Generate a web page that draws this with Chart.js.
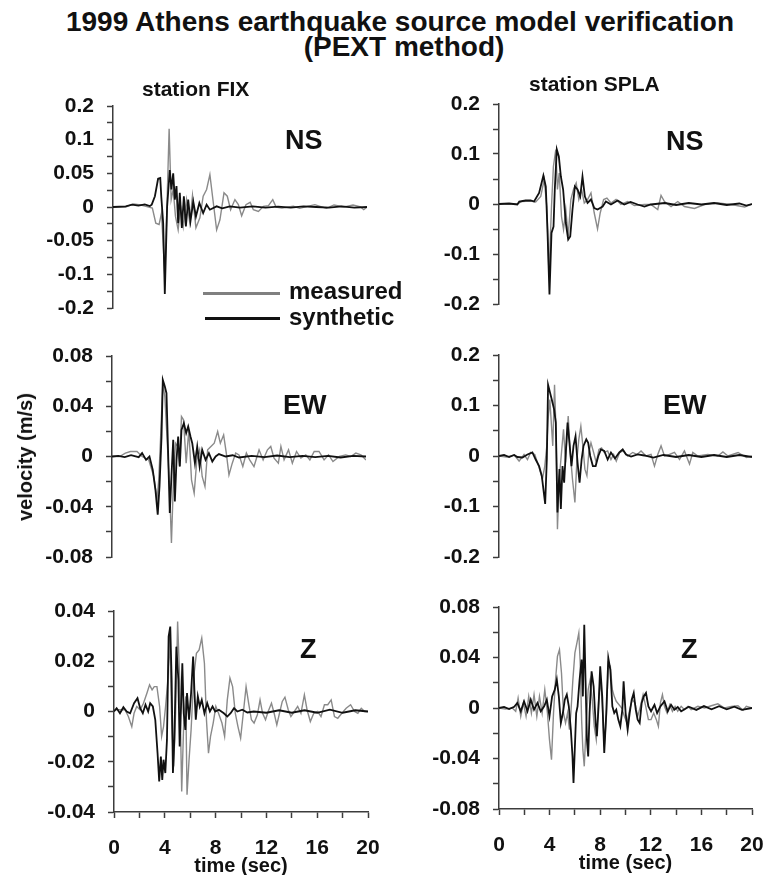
<!DOCTYPE html>
<html>
<head>
<meta charset="utf-8">
<script src="https://cdn.jsdelivr.net/npm/chart.js@4.4.1/dist/chart.umd.min.js"></script>
<style>
  body { margin: 0; background: #fff; }
  #page {
    position: relative;
    width: 763px;
    height: 875px;
    overflow: hidden;
    font-family: Arial, "Liberation Sans", sans-serif;
    font-weight: bold;
    color: #111;
  }
  #page canvas { position: absolute; }
  .txt { position: absolute; white-space: nowrap; line-height: 1; z-index: 2; }
  .key { position: absolute; z-index: 2; }
</style>
</head>
<body>
<div id="page"></div>
<script>
// time axis (s)
const timeTicks = [0, 4, 8, 12, 16, 20];

// y tick labels per panel (value -> printed text)
const fixNsTicks = [0.15, 0.1, 0.05, 0, -0.05, -0.1, -0.15];
const fixNsTickText = ["0.2", "0.1", "0.05", "0", "-0.05", "-0.1", "-0.2"];
const fixEwTicks = [0.08, 0.04, 0, -0.04, -0.08];
const fixEwTickText = ["0.08", "0.04", "0", "-0.04", "-0.08"];
const fixZTicks = [0.04, 0.02, 0, -0.02, -0.04];
const fixZTickText = ["0.04", "0.02", "0", "-0.02", "-0.04"];
const splaNsTicks = [0.2, 0.1, 0, -0.1, -0.2];
const splaNsTickText = ["0.2", "0.1", "0", "-0.1", "-0.2"];
const splaEwTicks = [0.2, 0.1, 0, -0.1, -0.2];
const splaEwTickText = ["0.2", "0.1", "0", "-0.1", "-0.2"];
const splaZTicks = [0.08, 0.04, 0, -0.04, -0.08];
const splaZTickText = ["0.08", "0.04", "0", "-0.04", "-0.08"];

// station FIX, NS
const fixNsSynT = [0, 1, 1.5, 2, 2.5, 2.9, 3.05, 3.3, 3.55, 3.72,
  3.8, 3.95, 4.08, 4.26, 4.47, 4.6, 4.74, 4.87, 5, 5.13,
  5.26, 5.42, 5.58, 5.74, 5.92, 6.1, 6.32, 6.53, 6.8, 7.1,
  7.37, 7.63, 8.16, 8.6, 9.2, 10, 11, 12, 13, 14,
  15, 16, 17, 18, 19, 20];
const fixNsSynV = [0, 0.001, 0.0035, 0.002, 0.004, 0.0015, 0.0035, 0.016, 0.042, 0.043,
  0.016, -0.024, -0.129, 0, 0.055, 0.026, 0.05, 0.011, 0.031, -0.024,
  0.021, -0.031, 0.016, -0.029, 0.011, -0.021, 0.008, -0.014, 0.006, -0.009,
  0.0035, -0.004, 0.001, -0.002, 0.001, -0.001, 0.001, -0.001, 0.0005, -0.001,
  0.001, 0, -0.001, 0.001, -0.001, 0];
const fixNsMeasT = [0, 1, 1.6, 2.2, 2.6, 3.1, 3.37, 3.63, 3.82, 4.08,
  4.21, 4.42, 4.58, 4.74, 4.92, 5.13, 5.32, 5.53, 5.79, 6.05,
  6.26, 6.53, 6.84, 7.1, 7.37, 7.63, 7.9, 8.16, 8.42, 8.74,
  9, 9.26, 9.6, 9.87, 10.13, 10.47, 10.8, 11.05, 11.45, 11.84,
  12.24, 12.58, 12.84, 13.3, 14.2, 14.7, 15.3, 15.9, 16.3, 16.8,
  17.4, 18.2, 18.9, 19.5, 19.74, 20];
const fixNsMeasV = [0, 0, 0.0045, 0.003, 0.001, -0.0015, -0.024, -0.026, -0.009, -0.103,
  -0.024, 0.116, 0.011, 0.026, -0.014, -0.034, 0.001, -0.029, 0.011, -0.024,
  0.017, -0.031, -0.016, 0.016, 0.026, 0.048, 0.006, -0.034, -0.019, 0.021,
  0.016, -0.004, 0.011, 0.0035, -0.013, 0.0035, 0.007, -0.004, -0.0065, 0.001,
  0.002, 0.011, 0, -0.0015, 0.001, -0.002, 0.001, 0.0035, 0.001, -0.002,
  0.003, 0, 0.003, 0, -0.004, 0];

// station SPLA, NS
const splaNsSynT = [0, 0.8, 1.45, 1.6, 2.1, 2.5, 2.77, 3.17, 3.51, 3.7,
  3.83, 3.99, 4.15, 4.31, 4.41, 4.57, 4.73, 4.89, 5.07, 5.28,
  5.47, 5.63, 5.81, 6, 6.21, 6.42, 6.6, 6.79, 7, 7.27,
  7.53, 7.79, 8.19, 8.45, 8.85, 9.38, 9.9, 10.4, 10.96, 11.5,
  12, 13.1, 14, 15, 16, 17, 18, 19, 19.55, 20];
const splaNsSynV = [0, 0.001, -0.001, 0.005, 0.007, 0.007, 0.005, 0.022, 0.057, 0.035,
  -0.051, -0.181, -0.058, -0.045, 0.029, 0.109, 0.095, 0.055, 0.029, -0.038,
  -0.071, -0.065, -0.011, 0.035, 0.029, 0.015, 0.055, 0.015, 0.002, 0.009,
  -0.008, -0.011, -0.005, 0.005, -0.001, 0.007, -0.001, 0.004, -0.001, -0.005,
  -0.001, 0.002, -0.002, 0.002, -0.001, 0.002, -0.002, 0.001, -0.003, 0];
const splaNsMeasT = [0, 1.45, 1.8, 2.5, 2.9, 3.3, 3.57, 3.78, 3.95, 4.15,
  4.3, 4.49, 4.62, 4.76, 4.94, 5.1, 5.28, 5.47, 5.68, 5.89,
  6.1, 6.31, 6.53, 6.74, 7, 7.27, 7.53, 7.79, 8, 8.27,
  8.53, 8.85, 9.25, 9.64, 10.17, 10.7, 11.5, 12, 12.55, 12.81,
  13.08, 13.6, 14.13, 14.66, 15.45, 16.25, 17.3, 18.36, 19.42, 20];
const splaNsMeasV = [0, 0, 0.005, 0.006, 0.004, 0.015, 0.049, -0.005, -0.14, -0.005,
  0.075, 0.109, 0.029, 0.062, -0.025, -0.051, -0.011, -0.065, 0.009, 0.029,
  0.042, 0.009, 0.029, 0.002, 0.009, 0.022, -0.018, -0.05, -0.018, 0.009,
  0.012, 0.002, 0.009, -0.001, 0.005, -0.003, -0.001, -0.001, -0.011, 0.017,
  0.005, -0.005, 0.005, -0.005, -0.009, -0.001, 0.002, -0.001, -0.006, 0];

// station FIX, EW
const fixEwSynT = [0, 0.5, 1, 1.5, 2.1, 2.37, 2.68, 2.95, 3.21, 3.42,
  3.6, 3.74, 3.9, 4, 4.16, 4.29, 4.42, 4.55, 4.68, 4.82,
  4.95, 5.08, 5.21, 5.34, 5.47, 5.66, 5.84, 6, 6.18, 6.32,
  6.53, 6.71, 6.9, 7.1, 7.37, 7.63, 7.9, 8.16, 8.42, 8.95,
  9.5, 10, 11, 12, 13, 14, 15, 16, 17, 18,
  19, 20];
const fixEwSynV = [0, 0.0005, -0.0005, 0.001, -0.0005, 0.0027, -0.0027, 0, -0.0106, -0.0265,
  -0.0464, -0.0239, 0.0159, 0.061, 0.0557, 0.0504, 0.0027, -0.045, -0.0159, 0.0133,
  -0.0358, -0.0027, 0.0159, -0.008, 0.0212, 0.0265, 0.0186, 0.0239, 0.0159, 0.0106,
  -0.0053, 0.008, -0.008, 0.0053, -0.0027, 0.0027, -0.004, 0, 0.0019, 0,
  0.001, -0.0008, 0.0005, -0.0005, 0.0008, -0.0005, 0.0005, -0.0005, 0.0005, -0.0008,
  0.0005, 0];
const fixEwMeasT = [0, 0.6, 1.05, 1.45, 1.97, 2.37, 2.89, 3.29, 3.55, 3.68,
  3.82, 4, 4.16, 4.34, 4.53, 4.68, 4.84, 5, 5.16, 5.32,
  5.47, 5.63, 5.84, 6.05, 6.26, 6.47, 6.68, 6.9, 7.1, 7.32,
  7.53, 7.79, 8.05, 8.32, 8.53, 8.79, 9, 9.21, 9.47, 9.74,
  10, 10.3, 10.58, 10.84, 11.18, 11.58, 11.9, 12.24, 12.5, 12.76,
  13.1, 13.3, 13.55, 13.9, 14.2, 14.53, 14.87, 15.26, 15.58, 15.92,
  16.3, 16.7, 17.05, 17.4, 17.9, 18.4, 18.8, 19.2, 19.6, 20];
const fixEwMeasV = [0, 0, 0.0027, 0.004, 0.004, 0, -0.0027, -0.0159, -0.0345, -0.0186,
  0.0133, 0.0583, 0.0477, 0.0133, -0.0239, -0.0689, -0.0186, 0.0106, 0.008, -0.008,
  0.0318, 0.0292, -0.0053, 0.0212, -0.0186, -0.0292, -0.0027, 0.0053, -0.0159, -0.0239,
  0.0053, 0.008, 0.0106, 0.0199, 0.0106, 0.0172, 0.0027, -0.0146, -0.0053, 0.0027,
  0.0013, -0.008, 0.0027, -0.0027, -0.008, 0.0053, -0.0027, 0.0053, 0.008, -0.0013,
  -0.0053, 0.008, -0.0027, 0.0053, -0.0053, 0.004, -0.0013, 0.0013, -0.0027, 0.004,
  0.004, -0.0027, 0.0013, -0.004, 0, 0.0013, 0, 0.0027, 0.0013, -0.0027];

// station SPLA, EW
const splaEwSynT = [0, 0.4, 0.8, 1.2, 1.45, 1.85, 2.25, 2.64, 2.9, 3.17,
  3.38, 3.65, 3.78, 3.88, 4.04, 4.17, 4.36, 4.49, 4.62, 4.78,
  4.89, 5.02, 5.15, 5.28, 5.42, 5.57, 5.73, 5.89, 6.05, 6.21,
  6.37, 6.53, 6.68, 6.9, 7.05, 7.21, 7.42, 7.64, 7.85, 8.06,
  8.32, 8.59, 8.85, 9.17, 9.51, 9.78, 10.04, 10.44, 10.96, 11.49,
  12.2, 13, 14, 15, 16, 17, 18, 19, 20];
const splaEwSynV = [0, 0.002, -0.002, 0.002, -0.002, -0.003, 0.003, 0.007, -0.007, -0.02,
  -0.039, -0.095, -0.007, 0.141, 0.125, 0.112, 0.092, 0.066, -0.112, -0.026,
  -0.105, -0.02, -0.053, 0.007, 0.066, 0.026, -0.02, 0.02, 0.039, -0.013,
  -0.053, -0.007, 0.02, 0.033, 0.026, 0, -0.02, -0.02, 0, 0.013,
  0.01, -0.007, 0.007, -0.005, 0.007, 0.013, 0.003, -0.001, 0.003, 0.001,
  -0.003, 0.002, -0.002, 0.002, -0.002, 0.002, -0.002, 0.002, -0.002];
const splaEwMeasT = [0, 0.6, 1.2, 1.59, 1.98, 2.25, 2.5, 2.83, 3.17, 3.43,
  3.62, 3.78, 3.88, 4.02, 4.15, 4.25, 4.39, 4.52, 4.62, 4.76,
  4.94, 5.1, 5.26, 5.47, 5.63, 5.81, 6, 6.16, 6.31, 6.47,
  6.63, 6.79, 6.95, 7.1, 7.27, 7.48, 7.69, 7.9, 8.11, 8.32,
  8.59, 8.85, 9.06, 9.27, 9.54, 9.85, 10.17, 10.57, 10.91, 11.23,
  11.62, 12.02, 12.29, 12.55, 12.81, 13.08, 13.47, 13.87, 14.27, 14.66,
  15.06, 15.32, 15.72, 16.5, 17.3, 17.7, 18.1, 18.9, 19.55, 20];
const splaEwMeasV = [0, -0.002, 0.002, -0.01, 0.003, -0.007, 0.007, 0.003, -0.023, -0.046,
  -0.02, 0.02, 0.072, 0.112, 0.059, 0.02, 0.141, 0.039, -0.145, -0.046,
  0.007, 0.053, -0.013, 0.079, 0.007, -0.046, -0.092, -0.007, 0.033, 0.059,
  0.02, -0.026, -0.039, 0.007, 0.026, 0.007, -0.013, 0.013, 0.016, 0.007,
  0.01, -0.007, 0.003, -0.01, 0.007, 0.01, 0, 0.007, 0.003, 0.01,
  0, 0.003, -0.02, 0.003, 0.02, 0, 0.003, 0.007, -0.007, 0.01,
  -0.016, 0.007, 0, 0.003, 0, 0.008, 0, 0.007, -0.003, 0];

// station FIX, Z
const fixZSynT = [0, 0.21, 0.47, 0.74, 1, 1.27, 1.58, 1.85, 2.06, 2.27,
  2.48, 2.69, 2.85, 3.06, 3.25, 3.43, 3.56, 3.69, 3.8, 3.9,
  4.04, 4.17, 4.3, 4.43, 4.54, 4.64, 4.75, 4.91, 5.07, 5.17,
  5.28, 5.38, 5.49, 5.62, 5.75, 5.91, 6.07, 6.23, 6.33, 6.44,
  6.6, 6.75, 6.91, 7.12, 7.34, 7.55, 7.76, 7.97, 8.26, 8.65,
  8.92, 9.18, 9.45, 9.71, 10.1, 10.5, 11, 12, 13, 14,
  15, 16, 17, 18, 19, 20];
const fixZSynV = [0, 0.0013, -0.0007, 0.0017, 0, -0.0007, 0.0033, 0.0053, 0.0013, -0.0007,
  0.0027, 0, 0.0033, 0.002, -0.0033, -0.0166, -0.0278, -0.0179, -0.0272, -0.0192,
  -0.0245, -0.0113, 0.0298, 0.0338, 0.0126, -0.0245, -0.0113, 0.0258, 0.0126, -0.0139,
  0.002, 0.0192, -0.0007, -0.0073, 0.0073, -0.0033, 0.0073, 0.0219, 0.0086, -0.0033,
  0.006, 0.002, 0.0046, -0.0007, 0.0033, 0, 0.002, 0, 0.0007, -0.0007,
  -0.002, -0.0007, 0.0013, 0, 0.0007, -0.0004, 0, -0.0005, 0.0005, -0.0005,
  0.0005, -0.0005, 0.0007, -0.0005, 0.0005, 0];
const fixZMeasT = [0, 0.87, 1.13, 1.4, 1.58, 1.79, 2.06, 2.32, 2.59, 2.8,
  3, 3.17, 3.38, 3.59, 3.75, 3.9, 4.06, 4.22, 4.38, 4.54,
  4.7, 4.85, 5.01, 5.17, 5.33, 5.49, 5.65, 5.75, 5.91, 6.07,
  6.28, 6.49, 6.7, 6.91, 7.12, 7.28, 7.44, 7.6, 7.81, 8.02,
  8.23, 8.5, 8.71, 8.92, 9.13, 9.34, 9.55, 9.76, 9.97, 10.18,
  10.4, 10.6, 10.82, 11.03, 11.29, 11.5, 11.7, 11.93, 12.14, 12.4,
  12.61, 12.82, 13.03, 13.25, 13.46, 13.72, 13.93, 14.2, 14.46, 14.72,
  14.99, 15.2, 15.46, 15.73, 16.04, 16.3, 16.57, 16.83, 17.1, 17.36,
  17.62, 17.94, 18.28, 18.63, 18.94, 19.2, 19.47, 19.74, 20];
const fixZMeasV = [0.0007, 0.0007, -0.002, -0.006, -0.0007, 0.002, 0.0007, 0.0033, 0.0073, 0.0106,
  0.0086, 0.0099, 0.0099, 0.002, -0.0099, -0.006, 0.002, 0.0113, 0.0298, -0.0033,
  -0.0219, -0.0007, 0.0358, 0.0126, -0.0318, -0.0046, 0.006, -0.0331, -0.0192, -0.0073,
  0.0139, 0.0232, 0.0245, 0.0292, 0.0192, -0.0033, -0.0166, -0.0099, -0.0046, 0.002,
  -0.0007, -0.0046, -0.0099, 0.0046, 0.0133, 0.0099, -0.0007, -0.006, -0.0106, -0.0007,
  0.0099, 0.0033, -0.0033, -0.0046, -0.0013, 0.0046, -0.0007, -0.0033, 0, 0.0033,
  -0.0007, -0.0053, -0.0007, 0.004, 0.0057, 0.0007, -0.002, 0, 0.002, -0.0007,
  0.0066, 0.0007, -0.004, -0.0007, 0, -0.002, 0.0027, 0.0027, 0.0046, -0.002,
  -0.0027, -0.0007, 0.0013, 0.0027, 0, -0.0007, 0.0013, 0, 0];

// station SPLA, Z
const splaZSynT = [0, 0.4, 0.8, 1.2, 1.45, 1.72, 1.98, 2.25, 2.51, 2.77,
  3.04, 3.3, 3.57, 3.78, 3.99, 4.2, 4.41, 4.57, 4.73, 4.89,
  5.05, 5.2, 5.36, 5.52, 5.68, 5.81, 5.89, 6, 6.1, 6.21,
  6.37, 6.53, 6.63, 6.74, 6.84, 6.95, 7.05, 7.16, 7.32, 7.48,
  7.64, 7.74, 7.87, 8, 8.16, 8.32, 8.48, 8.64, 8.8, 8.96,
  9.11, 9.27, 9.43, 9.59, 9.75, 9.85, 10.01, 10.17, 10.33, 10.49,
  10.65, 10.81, 10.96, 11.12, 11.28, 11.44, 11.62, 11.81, 12.02, 12.29,
  12.5, 12.76, 13.08, 13.34, 13.6, 13.87, 14.13, 14.4, 15, 15.6,
  16.2, 16.8, 17.4, 18, 18.6, 19.2, 20];
const splaZSynV = [0, 0.0008, -0.0008, 0.001, 0.004, -0.0026, 0.0053, -0.0026, 0.0066, -0.0013,
  0.004, -0.0026, 0.0013, 0.0066, -0.0066, 0.0092, 0.0145, 0.0224, 0.0092, -0.0119,
  -0.004, 0.0066, 0.0106, 0.0013, -0.0172, -0.0383, -0.0594, -0.0304, -0.004, 0.0013,
  0.0224, 0.0383, 0.0092, 0.066, 0.0224, -0.0251, -0.0383, -0.004, 0.029, 0.0172,
  -0.0119, -0.0224, 0.0013, 0.033, 0.0092, -0.0356, -0.004, 0.0396, 0.0304, 0.0013,
  -0.004, -0.0013, -0.0092, -0.0145, -0.0013, 0.0211, -0.004, -0.0172, -0.004, 0.0066,
  0.0119, -0.0013, -0.0092, -0.0119, 0.004, 0.0092, 0.0119, 0.0013, -0.0026, 0.0026,
  -0.004, 0.0013, 0.0053, -0.0026, 0.0026, -0.0013, 0.0008, -0.0026, 0.001, -0.0015,
  0.0015, -0.001, 0.0015, -0.001, 0.001, -0.0015, 0];
const splaZMeasT = [0, 0.5, 1.05, 1.32, 1.51, 1.72, 1.93, 2.14, 2.35, 2.56,
  2.77, 2.99, 3.2, 3.41, 3.62, 3.83, 3.99, 4.15, 4.31, 4.47,
  4.62, 4.78, 4.94, 5.1, 5.26, 5.42, 5.57, 5.68, 5.84, 6,
  6.16, 6.31, 6.42, 6.53, 6.63, 6.74, 6.9, 7.05, 7.21, 7.37,
  7.53, 7.69, 7.85, 8, 8.16, 8.32, 8.48, 8.64, 8.8, 8.96,
  9.11, 9.27, 9.49, 9.7, 9.91, 10.12, 10.33, 10.54, 10.75, 10.96,
  11.18, 11.39, 11.6, 11.81, 12.02, 12.23, 12.44, 12.6, 12.76, 12.92,
  13.08, 13.29, 13.5, 13.71, 13.92, 14.13, 14.4, 14.66, 14.93, 15.19,
  15.72, 16.25, 16.78, 17.3, 17.83, 18.36, 18.89, 19.29, 19.55, 20];
const splaZMeasV = [0, -0.0008, 0, -0.0026, 0.0079, -0.0066, 0.004, -0.0066, 0.0092, -0.004,
  0.0106, -0.0066, 0.0092, -0.004, 0.0145, -0.004, -0.0251, -0.0409, -0.004, 0.0224,
  0.0409, 0.0462, 0.0277, -0.004, -0.0119, -0.004, -0.0172, -0.004, 0.0224, 0.0436,
  0.0515, 0.0594, 0.0356, -0.0092, -0.033, -0.0462, -0.0119, 0.0145, 0.0224, 0.0066,
  -0.0145, -0.0251, 0.0013, 0.0224, 0.004, -0.0304, -0.0092, 0.0356, 0.033, 0.0145,
  0.0092, 0.0053, 0.0026, 0, -0.0066, -0.0119, -0.0013, 0.0066, 0.004, -0.0066,
  0.0013, 0.0106, 0.0013, -0.0092, -0.0092, -0.004, -0.0092, -0.0145, 0.004, 0.0106,
  0.0013, -0.004, 0.0026, -0.0026, 0.0013, -0.0026, 0.0013, -0.0013, 0.0013, -0.0013,
  0.0013, 0, 0.0018, 0.0034, 0, 0.0013, 0.0018, -0.0018, 0.0013, 0];

const FONT = "Arial, 'Liberation Sans', sans-serif";
const AXIS_COLOR = "#3c3c3c";
const MEAS_COLOR = "#8a8a8a";
const SYN_COLOR = "#111111";

const page = document.getElementById("page");

// plot boxes in page pixels (left/right = 0 s / 20 s, top/bottom = y max / y min)
const panels = [
  { left: 113, right: 367, top: 106, bottom: 308, step: 0.025, ticks: fixNsTicks, text: fixNsTickText,
    meas: [fixNsMeasT, fixNsMeasV], syn: [fixNsSynT, fixNsSynV], timeAxis: false },
  { left: 498.5, right: 751, top: 104, bottom: 304, step: 0.05, ticks: splaNsTicks, text: splaNsTickText,
    meas: [splaNsMeasT, splaNsMeasV], syn: [splaNsSynT, splaNsSynV], timeAxis: false },
  { left: 112, right: 366, top: 356, bottom: 557, step: 0.02, ticks: fixEwTicks, text: fixEwTickText,
    meas: [fixEwMeasT, fixEwMeasV], syn: [fixEwSynT, fixEwSynV], timeAxis: false },
  { left: 498.5, right: 751, top: 355, bottom: 557, step: 0.05, ticks: splaEwTicks, text: splaEwTickText,
    meas: [splaEwMeasT, splaEwMeasV], syn: [splaEwSynT, splaEwSynV], timeAxis: false },
  { left: 113.5, right: 367, top: 611, bottom: 812, step: 0.01, ticks: fixZTicks, text: fixZTickText,
    meas: [fixZMeasT, fixZMeasV], syn: [fixZSynT, fixZSynV], timeAxis: true },
  { left: 498.5, right: 751, top: 607, bottom: 809, step: 0.02, ticks: splaZTicks, text: splaZTickText,
    meas: [splaZMeasT, splaZMeasV], syn: [splaZSynT, splaZSynV], timeAxis: true },
];

function toPoints(times, values) {
  return times.map((t, i) => ({ x: t, y: values[i] }));
}

function tickFont(size) {
  return { family: FONT, size: size, weight: "bold", lineHeight: 1.2 };
}

function buildPanel(p) {
  const yAxisW = 80;
  const xAxisH = 64;
  const padTop = 14;
  const padRight = 16;
  const padBottom = p.timeAxis ? 2 : 14;

  const w = Math.round(yAxisW + (p.right - p.left) + padRight);
  const h = Math.round(padTop + (p.bottom - p.top) + (p.timeAxis ? xAxisH : 0) + padBottom);
  const canvas = document.createElement("canvas");
  canvas.width = w;
  canvas.height = h;
  canvas.style.width = w + "px";
  canvas.style.height = h + "px";
  canvas.style.left = (p.left - yAxisW) + "px";
  canvas.style.top = (p.top - padTop) + "px";
  page.appendChild(canvas);

  const yMax = p.ticks[0];
  const yMin = p.ticks[p.ticks.length - 1];

  new Chart(canvas, {
    type: "line",
    data: {
      datasets: [
        {
          label: "measured",
          data: toPoints(p.meas[0], p.meas[1]),
          borderColor: MEAS_COLOR,
          borderWidth: 1.4,
          pointRadius: 0,
          tension: 0,
          order: 1,
        },
        {
          label: "synthetic",
          data: toPoints(p.syn[0], p.syn[1]),
          borderColor: SYN_COLOR,
          borderWidth: 1.8,
          pointRadius: 0,
          tension: 0,
          order: 0,
        },
      ],
    },
    options: {
      responsive: false,
      maintainAspectRatio: false,
      animation: false,
      devicePixelRatio: 1,
      layout: { padding: { top: padTop, right: padRight, bottom: padBottom, left: 0 } },
      plugins: { legend: { display: false }, tooltip: { enabled: false } },
      scales: {
        x: {
          type: "linear",
          min: 0,
          max: 20,
          display: p.timeAxis,
          afterFit: (scale) => {
            if (!p.timeAxis) return;
            scale.height = xAxisH;
            scale.paddingLeft = 0;
            scale.paddingRight = 0;
          },
          border: { display: true, color: AXIS_COLOR, width: 1.5 },
          grid: { drawOnChartArea: false, drawTicks: true, tickLength: 6, tickColor: AXIS_COLOR, tickWidth: 1.5 },
          ticks: {
            stepSize: 2,
            autoSkip: false,
            maxRotation: 0,
            padding: 18,
            color: "#111",
            font: tickFont(21),
            callback: (v) => (timeTicks.includes(v) ? String(v) : ""),
          },
          title: {
            display: true,
            text: "time (sec)",
            color: "#111",
            font: { family: FONT, size: 20, weight: "bold", lineHeight: 1 },
            padding: 0,
          },
        },
        y: {
          type: "linear",
          min: yMin,
          max: yMax,
          afterFit: (scale) => {
            scale.width = yAxisW;
            scale.paddingTop = 0;
            scale.paddingBottom = 0;
          },
          border: { display: true, color: AXIS_COLOR, width: 1.5 },
          grid: { drawOnChartArea: false, drawTicks: true, tickLength: 6, tickColor: AXIS_COLOR, tickWidth: 1.5 },
          ticks: {
            stepSize: p.step,
            autoSkip: false,
            padding: 13,
            color: "#111",
            font: tickFont(21),
            callback: (v) => {
              const i = p.ticks.findIndex((t) => Math.abs(t - v) < 1e-9);
              return i >= 0 ? p.text[i] : "";
            },
          },
        },
      },
    },
  });
}

panels.forEach(buildPanel);

// text placed by baseline (line-height 1, Arial baseline at 0.8465em)
function addText(str, x, baseline, size, align) {
  const el = document.createElement("div");
  el.className = "txt";
  el.textContent = str;
  el.style.fontSize = size + "px";
  el.style.top = (baseline - 0.8465 * size) + "px";
  el.style.left = x + "px";
  if (align === "center") el.style.transform = "translateX(-50%)";
  page.appendChild(el);
  return el;
}

function addKeyLine(x, y, w, color) {
  const el = document.createElement("div");
  el.className = "key";
  el.style.left = x + "px";
  el.style.top = (y - 1.5) + "px";
  el.style.width = w + "px";
  el.style.height = "3px";
  el.style.background = color;
  page.appendChild(el);
}

addText("1999 Athens earthquake source model verification", 400, 32, 28, "center");
addText("(PEXT method)", 404, 57, 28, "center");
addText("station FIX", 142, 96, 21);
addText("station SPLA", 529, 91, 21);

addText("NS", 285, 150, 27);
addText("NS", 666, 151, 27);
addText("EW", 283, 415, 27);
addText("EW", 663, 415, 27);
addText("Z", 300, 659, 27);
addText("Z", 681, 659, 27);

addKeyLine(203, 293, 77, "#808080");
addText("measured", 289, 299, 24);
addKeyLine(205, 318, 75, "#111");
addText("synthetic", 289, 325, 24);

const yTitle = document.createElement("div");
yTitle.className = "txt";
yTitle.textContent = "velocity (m/s)";
yTitle.style.fontSize = "20px";
yTitle.style.left = "25px";
yTitle.style.top = "457px";
yTitle.style.transform = "translate(-50%, -50%) rotate(-90deg)";
page.appendChild(yTitle);
</script>
</body>
</html>
